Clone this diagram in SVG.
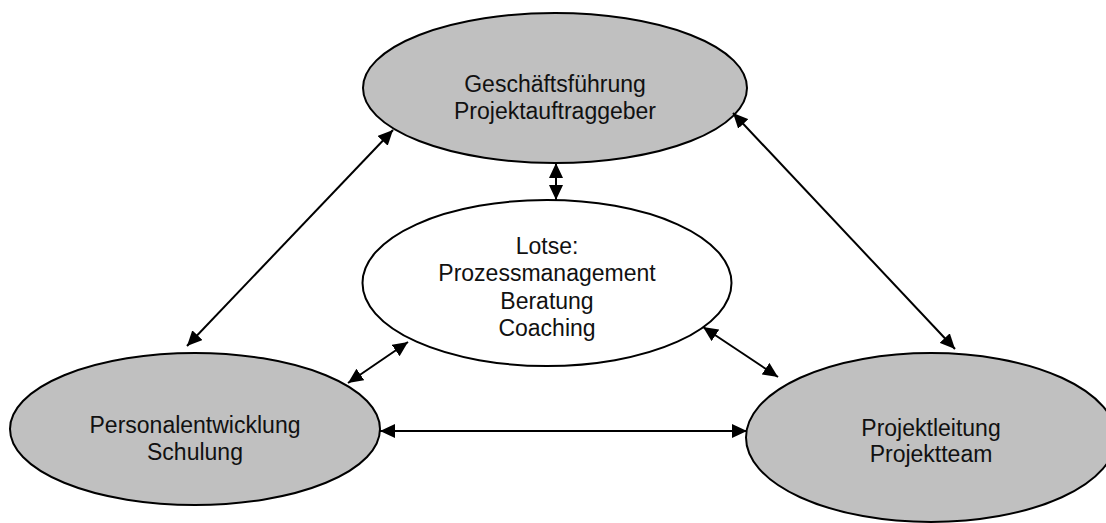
<svg xmlns="http://www.w3.org/2000/svg" width="1106" height="523" viewBox="0 0 1106 523">
<style>
.node{stroke:#000;stroke-width:2}
.gray{fill:#c0c0c0}
.white{fill:#fff}
text{font-family:"Liberation Sans",Arial,sans-serif;font-size:23px;fill:#111;text-anchor:middle}
.conn line{stroke:#000;stroke-width:2;marker-start:url(#ah);marker-end:url(#ah)}
</style>
<defs>
<marker id="ah" markerUnits="userSpaceOnUse" markerWidth="16" markerHeight="14" refX="15" refY="7" orient="auto-start-reverse">
<path d="M0,0 L15,7 L0,14 z" fill="#000"/>
</marker>
</defs>
<rect width="1106" height="523" fill="#fff"/>
<g id="n-top">
<ellipse class="node gray" cx="555" cy="88" rx="192" ry="75"/>
<text x="555" y="92">Geschäftsführung</text>
<text x="555" y="119">Projektauftraggeber</text>
</g>
<g id="n-mid">
<ellipse class="node white" cx="547" cy="283" rx="184.5" ry="83"/>
<text x="547" y="254">Lotse:</text>
<text x="547" y="281">Prozessmanagement</text>
<text x="547" y="309">Beratung</text>
<text x="547" y="336">Coaching</text>
</g>
<g id="n-left">
<ellipse class="node gray" cx="195" cy="429" rx="185" ry="76"/>
<text x="195" y="433">Personalentwicklung</text>
<text x="195" y="460">Schulung</text>
</g>
<g id="n-right">
<ellipse class="node gray" cx="931" cy="437.5" rx="185" ry="84.5"/>
<text x="931" y="436">Projektleitung</text>
<text x="931" y="462">Projektteam</text>
</g>
<g id="connectors" class="conn">
<line x1="556" y1="163" x2="556" y2="200"/>
<line x1="393" y1="130" x2="187" y2="346"/>
<line x1="733" y1="113" x2="955" y2="349"/>
<line x1="703" y1="327" x2="778" y2="377"/>
<line x1="408" y1="342" x2="348" y2="383"/>
<line x1="380" y1="431" x2="747" y2="431"/>
</g>
</svg>
